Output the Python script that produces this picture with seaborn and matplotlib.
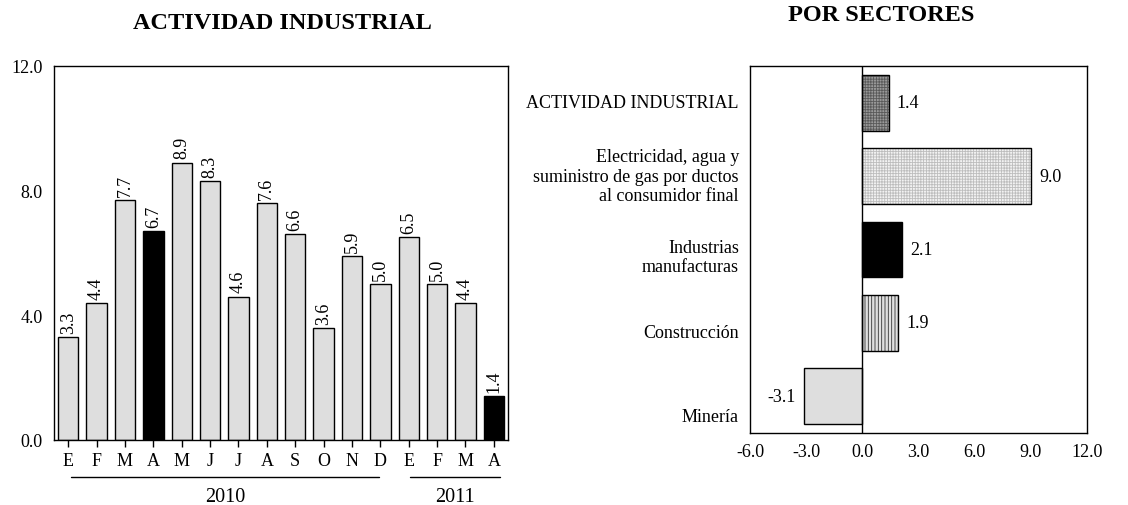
import matplotlib
matplotlib.use("Agg")
import matplotlib.pyplot as plt
import seaborn as sns
import pandas as pd
from matplotlib.ticker import FormatStrFormatter

# ---------------- data ----------------
months = ["E", "F", "M", "A", "M", "J", "J", "A", "S", "O", "N", "D", "E", "F", "M", "A"]
monthly_values = [3.3, 4.4, 7.7, 6.7, 8.9, 8.3, 4.6, 7.6, 6.6, 3.6, 5.9, 5.0, 6.5, 5.0, 4.4, 1.4]
highlight = [False, False, False, True, False, False, False, False, False, False, False, False,
             False, False, False, True]
years = ["2010", "2011"]

sectors = ["ACTIVIDAD INDUSTRIAL",
           "Electricidad, agua y\nsuministro de gas por ductos\nal consumidor final",
           "Industrias\nmanufacturas",
           "Construcción",
           "Minería"]
sector_values = [1.4, 9.0, 2.1, 1.9, -3.1]

left_title = "ACTIVIDAD INDUSTRIAL"
right_title = "POR SECTORES"

# ---------------- style ----------------
sns.set_theme(style="white")
plt.rcParams["font.family"] = ["Liberation Serif", "DejaVu Serif"]
plt.rcParams["text.color"] = "black"
plt.rcParams["xtick.color"] = "black"
plt.rcParams["ytick.color"] = "black"
plt.rcParams["axes.labelcolor"] = "black"
plt.rcParams["hatch.linewidth"] = 0.6
FS = 13

fig = plt.figure(figsize=(11.28, 5.06), dpi=100)
ax1 = fig.add_axes([0.0479, 0.1285, 0.4025, 0.7391])
ax2 = fig.add_axes([0.6649, 0.1423, 0.2988, 0.7253])

# ---------------- left chart ----------------
df1 = pd.DataFrame({"pos": list(range(len(months))), "val": monthly_values, "hl": highlight})
sns.barplot(data=df1, x="pos", y="val", hue="hl", palette={False: "#dedede", True: "black"},
            dodge=False, width=0.72, edgecolor="black", linewidth=1.0, legend=False, ax=ax1)
ax1.set_xlim(-0.5, len(months) - 0.5)
ax1.set_ylim(0, 12)
ax1.set_yticks([0, 4, 8, 12])
ax1.yaxis.set_major_formatter(FormatStrFormatter("%.1f"))
ax1.set_xticks(range(len(months)))
ax1.set_xticklabels(months)
ax1.set_xlabel("")
ax1.set_ylabel("")
ax1.tick_params(axis="y", length=0, pad=8, labelsize=FS)
ax1.tick_params(axis="x", length=5, width=1, color="black", direction="out", pad=4, labelsize=FS,
                bottom=True)
for s in ax1.spines.values():
    s.set_color("black")
    s.set_linewidth(1.0)
for cont in ax1.containers:
    labels = [f"{v:.1f}" for v in cont.datavalues]
    ax1.bar_label(cont, labels=labels, rotation=90, padding=3, fontsize=FS)

# year brackets
tr = ax1.get_xaxis_transform()
year_spans = [(0.1, 10.95), (12.05, 15.2)]
for (x0, x1), yr in zip(year_spans, years):
    ax1.plot([x0, x1], [-0.098, -0.098], color="black", lw=1.0, transform=tr, clip_on=False)
    ax1.text((x0 + x1) / 2, -0.15, yr, transform=tr, ha="center", va="center", fontsize=14.5)

# ---------------- right chart ----------------
face_colors = ["#9a9a9a", "#f2f2f2", "black", "#e0e0e0", "#dedede"]
hatch_colors = ["#5a5a5a", "#bdbdbd", "black", "#333333", "#dedede"]
hatches = ["++++++", "++++++", "", "|||||", ""]

df2 = pd.DataFrame({"sector": sectors, "val": sector_values})
sns.barplot(data=df2, x="val", y="sector", orient="h", width=0.76, color="#dedede",
            linewidth=0, ax=ax2)
for p, fc, hc, h in zip(ax2.patches, face_colors, hatch_colors, hatches):
    p.set_facecolor(fc)
    p.set_edgecolor(hc)
    p.set_hatch(h)
    p.set_linewidth(0)
sns.barplot(data=df2, x="val", y="sector", orient="h", width=0.76, color="black",
            fill=False, linewidth=1.0, ax=ax2)
for p in ax2.patches[len(sectors):]:
    p.set_edgecolor("black")
    p.set_facecolor("none")

ax2.bar_label(ax2.containers[-1], labels=[f"{v:.1f}" for v in sector_values], padding=6,
              fontsize=FS)
ax2.axvline(0, color="black", lw=1.0)
ax2.set_xlim(-6, 12)
ax2.set_ylim(len(sectors) - 0.5, -0.5)
ax2.set_xticks([-6, -3, 0, 3, 6, 9, 12])
ax2.xaxis.set_major_formatter(FormatStrFormatter("%.1f"))
ax2.set_yticks([])
ax2.set_xlabel("")
ax2.set_ylabel("")
ax2.tick_params(axis="x", length=0, pad=7, labelsize=FS)
for s in ax2.spines.values():
    s.set_color("black")
    s.set_linewidth(1.0)

label_offsets = [0.0, 0.0, 0.1, 0.13, 0.27]
tr2 = ax2.get_yaxis_transform()
for i, (lab, off) in enumerate(zip(sectors, label_offsets)):
    ax2.text(-0.033, i + off, lab, transform=tr2, ha="right", va="center", fontsize=FS,
             linespacing=1.2)

# ---------------- titles ----------------
fig.text(0.2504, 0.9536, left_title, ha="center", va="center", fontsize=17.5, fontweight="bold")
fig.text(0.7815, 0.969, right_title, ha="center", va="center", fontsize=17.5, fontweight="bold")

fig.savefig("out.png", dpi=100)
